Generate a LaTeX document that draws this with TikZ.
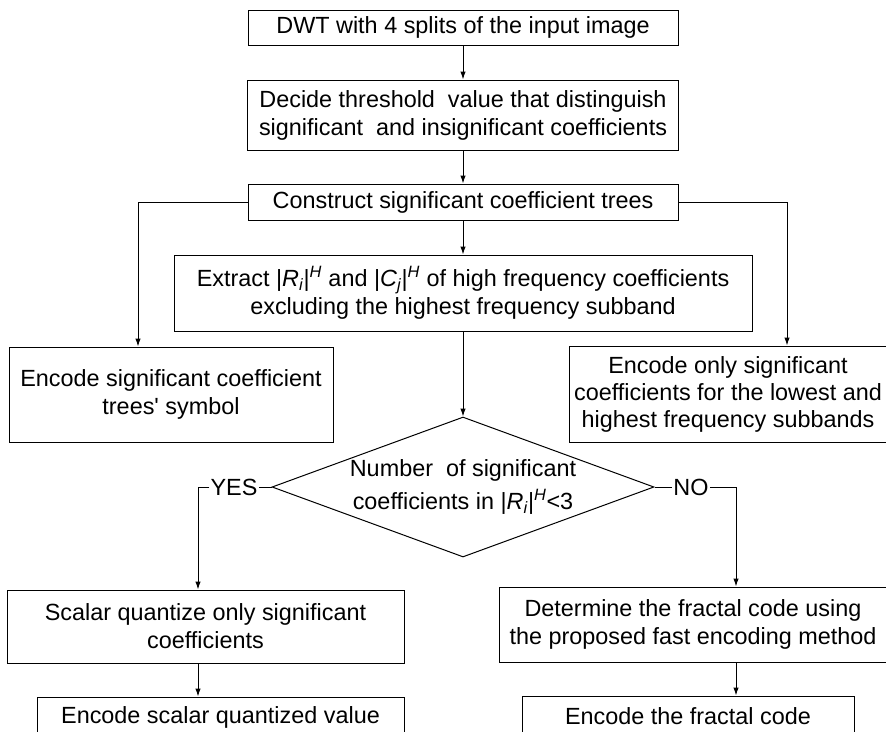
\documentclass[tikz,border=0pt]{standalone}
\usepackage{fontspec}
\setmainfont{Liberation Sans}
\usepackage{tikz}
\usetikzlibrary{arrows.meta,calc,shapes.geometric}
\newcommand{\coefRi}{|\textit{R}\textsubscript{\textit{i}}|\textsuperscript{\textit{H}}}
\newcommand{\coefCj}{|\textit{C}\textsubscript{\textit{j}}|\textsuperscript{\textit{H}}}
\tikzset{
  procbox/.style={draw,line width=1pt,align=center,inner sep=0pt,font=\fontsize{23.4}{28}\selectfont},
  decision/.style={draw,diamond,aspect=2.73,line width=1pt,align=center,inner sep=0pt,font=\fontsize{23.4}{33}\selectfont},
  branchlabel/.style={inner sep=1pt,font=\fontsize{23.4}{28}\selectfont},
  flowarrow/.style={-{Latex[length=8pt,width=5.5pt]},line width=1pt},
  flowline/.style={line width=1pt}
}

\begin{document}
\begin{tikzpicture}[x=1pt,y=-1pt]
  \useasboundingbox (0,0) rectangle (886,731);
  \node[procbox,minimum width=430pt,minimum height=35pt] (dwt) at (463,27.5) {DWT with 4 splits of the input image};
  \node[procbox,minimum width=431pt,minimum height=70pt] (thr) at (463,115) {Decide threshold\ \ value that distinguish\\significant\ \ and insignificant coefficients};
  \node[procbox,minimum width=430pt,minimum height=36pt] (tree) at (463,202) {Construct significant coefficient trees};
  \node[procbox,minimum width=578pt,minimum height=76pt] (ext) at (463,293) {Extract \coefRi\ and \coefCj\ of high frequency coefficients\\excluding the highest frequency subband};
  \node[procbox,minimum width=324pt,minimum height=95pt] (sig) at (171,394.5) {Encode significant coefficient\\trees\textquotesingle\ symbol};
  \node[procbox,minimum width=318pt,minimum height=96pt,font=\fontsize{23.4}{27}\selectfont] (low) at (728,394) {Encode only significant\\coefficients for the lowest and\\highest frequency subbands};
  \node[decision,minimum width=382pt,minimum height=140pt] (dec) at (463,487) {Number\ \ of significant\\coefficients in \coefRi<3};
  \node[branchlabel] (yes) at (234,487) {YES};
  \node[branchlabel] (no) at (691,487) {NO};
  \node[procbox,minimum width=397pt,minimum height=73pt] (scal) at (205.5,626.5) {Scalar quantize only significant\\coefficients};
  \node[procbox,minimum width=388pt,minimum height=75pt] (frac) at (693,624.5) {Determine the fractal code using\\the proposed fast encoding method};
  \node[procbox,minimum width=367pt,minimum height=40pt] (encs) at (220.5,717) {Encode scalar quantized value};
  \node[procbox,minimum width=332pt,minimum height=40pt] (encf) at (688,716) {Encode the fractal code};
  \coordinate (lcol) at (138,0);
  \coordinate (rcol) at (787,0);
  \coordinate (ycol) at (198,0);
  \coordinate (ncol) at (736,0);
  \foreach \a/\b in {dwt/thr,thr/tree,tree/ext,ext/dec}{\draw[flowarrow] (\a.south) -- (\b.north);}
  \draw[flowarrow] (tree.west) -| (lcol |- sig.north);
  \draw[flowarrow] (tree.east) -| (rcol |- low.north);
  \draw[flowline] (dec.west) -- (yes.east);
  \draw[flowarrow] (yes.west) -| (ycol |- scal.north);
  \draw[flowline] (dec.east) -- (no.west);
  \draw[flowarrow] (no.east) -| (ncol |- frac.north);
  \draw[flowarrow] (scal.south -| ycol) -- (encs.north -| ycol);
  \draw[flowarrow] (frac.south -| ncol) -- (encf.north -| ncol);
\end{tikzpicture}
\end{document}
